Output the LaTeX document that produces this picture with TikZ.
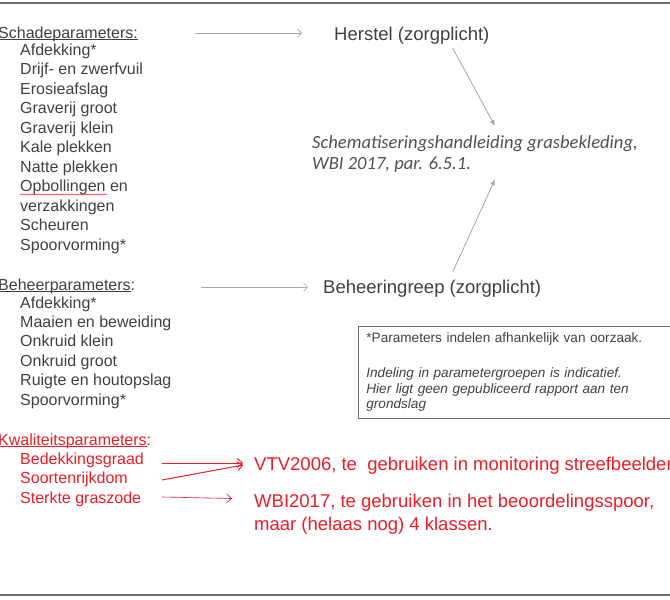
\documentclass[tikz,border=0pt]{standalone}
\usepackage{fontspec}
\setmainfont{Liberation Sans}
\newfontfamily\calibri{Carlito}
\usetikzlibrary{arrows.meta,positioning,calc,decorations.pathmorphing}
\definecolor{txtgray}{HTML}{404040}
\definecolor{refgray}{HTML}{505050}
\definecolor{arrgray}{HTML}{A6A6A6}
\definecolor{linegray}{HTML}{6E6E6E}
\definecolor{qred}{HTML}{EE1C25}
\newcommand{\ulw}[1]{\setbox0\hbox{#1}\rlap{\rule[-1.8pt]{\wd0}{0.7pt}}\box0}

\begin{document}
\begin{tikzpicture}[x=1pt,y=-1pt,>=Latex,
  lbl/.style={anchor=base west,inner sep=0pt,text=txtgray,font=\fontsize{16}{19}\selectfont},
  qlbl/.style={lbl,text=qred},
  target/.style={anchor=base west,inner sep=0pt,text=txtgray,font=\fontsize{18.5}{22}\selectfont},
  qtarget/.style={target,text=qred,font=\fontsize{18.5}{22.5}\selectfont,align=left},
  garrow/.style={draw=arrgray,line width=0.6pt,-{Straight Barb[length=4pt,width=8pt]}},
  gdiag/.style={draw=arrgray,line width=0.8pt,-{Latex[length=6pt,width=5pt]}},
  rarrow/.style={draw=qred,line width=1pt,-{Straight Barb[length=5pt,width=9pt]}},
  notebox/.style={draw=linegray,line width=0.8pt,text=txtgray,align=left,text width=300pt,
    inner xsep=8pt,inner ysep=4pt,minimum height=92pt,font=\fontsize{13.6}{15.5}\selectfont}]
\useasboundingbox (0,0) rectangle (670,600);
\draw[linegray,line width=1.5pt] (0,3) -- (670,3);
\draw[linegray,line width=1.5pt] (0,595) -- (670,595);

% schadeparameters
\node[lbl] (schade) at (-2,38) {\ulw{Schadeparameters:}};
\foreach \t [count=\i] in {Afdekking*,Drijf- en zwerfvuil,Erosieafslag,Graverij groot,
  Graverij klein,Kale plekken,Natte plekken,Opbollingen en,verzakkingen,Scheuren,Spoorvorming*}
  \node[lbl] (s\i) at (20,{55+19.5*(\i-1)}) {\t};
\draw[qred,line width=0.5pt,decorate,decoration={snake,amplitude=0.6pt,segment length=3pt}]
  ([yshift=-3pt]s8.base west) -- ++(87,0);

% beheerparameters
\node[lbl] (beheerhd) at (-2,290) {\ulw{Beheerparameters}:};
\foreach \t [count=\i] in {Afdekking*,Maaien en beweiding,Onkruid klein,Onkruid groot,
  Ruigte en houtopslag,Spoorvorming*}
  \node[lbl] (b\i) at (20,{308+19.4*(\i-1)}) {\t};

% kwaliteitsparameters
\node[qlbl] (kwal) at (-2,445) {\ulw{Kwaliteitsparameters}:};
\foreach \t [count=\i] in {Bedekkingsgraad,Soortenrijkdom,Sterkte graszode}
  \node[qlbl] (k\i) at (20,{464+19.5*(\i-1)}) {\t};

% targets
\node[target] (herstel) at (334,40) {Herstel (zorgplicht)};
\node[target] (beheer) at (323,293) {Beheeringreep (zorgplicht)};
\node[anchor=north west,inner sep=0pt,text=refgray,align=left,
  font=\calibri\itshape\fontsize{18.6}{21}\selectfont] (schema) at (312,135)
  {Schematiseringshandleiding grasbekleding,\\WBI 2017, par. 6.5.1.};
\node[notebox,anchor=north west] (note) at (358,326)
  {*Parameters indelen afhankelijk van oorzaak.\\[19.5pt]
   \textit{Indeling in parametergroepen is indicatief.}\\
   \textit{Hier ligt geen gepubliceerd rapport aan ten}\\
   \textit{grondslag}};
\node[qtarget] (vtv) at (254,470) {VTV2006, te\ \ gebruiken in monitoring streefbeelden};
\node[qtarget,anchor=north west] (wbi) at (254,494)
  {WBI2017, te gebruiken in het beoordelingsspoor,\\maar (helaas nog) 4 klassen.};

% arrows
\coordinate (h0) at (195,33);
\coordinate (b0) at (201,287);
\draw[garrow,shorten >=32pt] (h0) -- (h0 -| herstel.west);
\draw[garrow,shorten >=15pt] (b0) -- (b0 -| beheer.west);
\draw[gdiag] ([xshift=-37pt,yshift=-4pt]herstel.south east) -- ([xshift=183pt,yshift=9pt]schema.north west);
\draw[gdiag] ([xshift=130pt,yshift=8pt]beheer.north west) -- ([xshift=183pt,yshift=-7pt]schema.south west);

\coordinate (r1) at (162,463);
\coordinate (r2) at (162,480);
\coordinate (r3) at (162,497);
\draw[rarrow,shorten >=11pt] (r1) -- (vtv.west |- r1);
\draw[rarrow,shorten >=11pt] (r2) -- (vtv.west |- r1);
\draw[rarrow,line width=0.6pt,shorten >=22pt] (r3) -- ([yshift=-5pt]wbi.north west);
\end{tikzpicture}
\end{document}
